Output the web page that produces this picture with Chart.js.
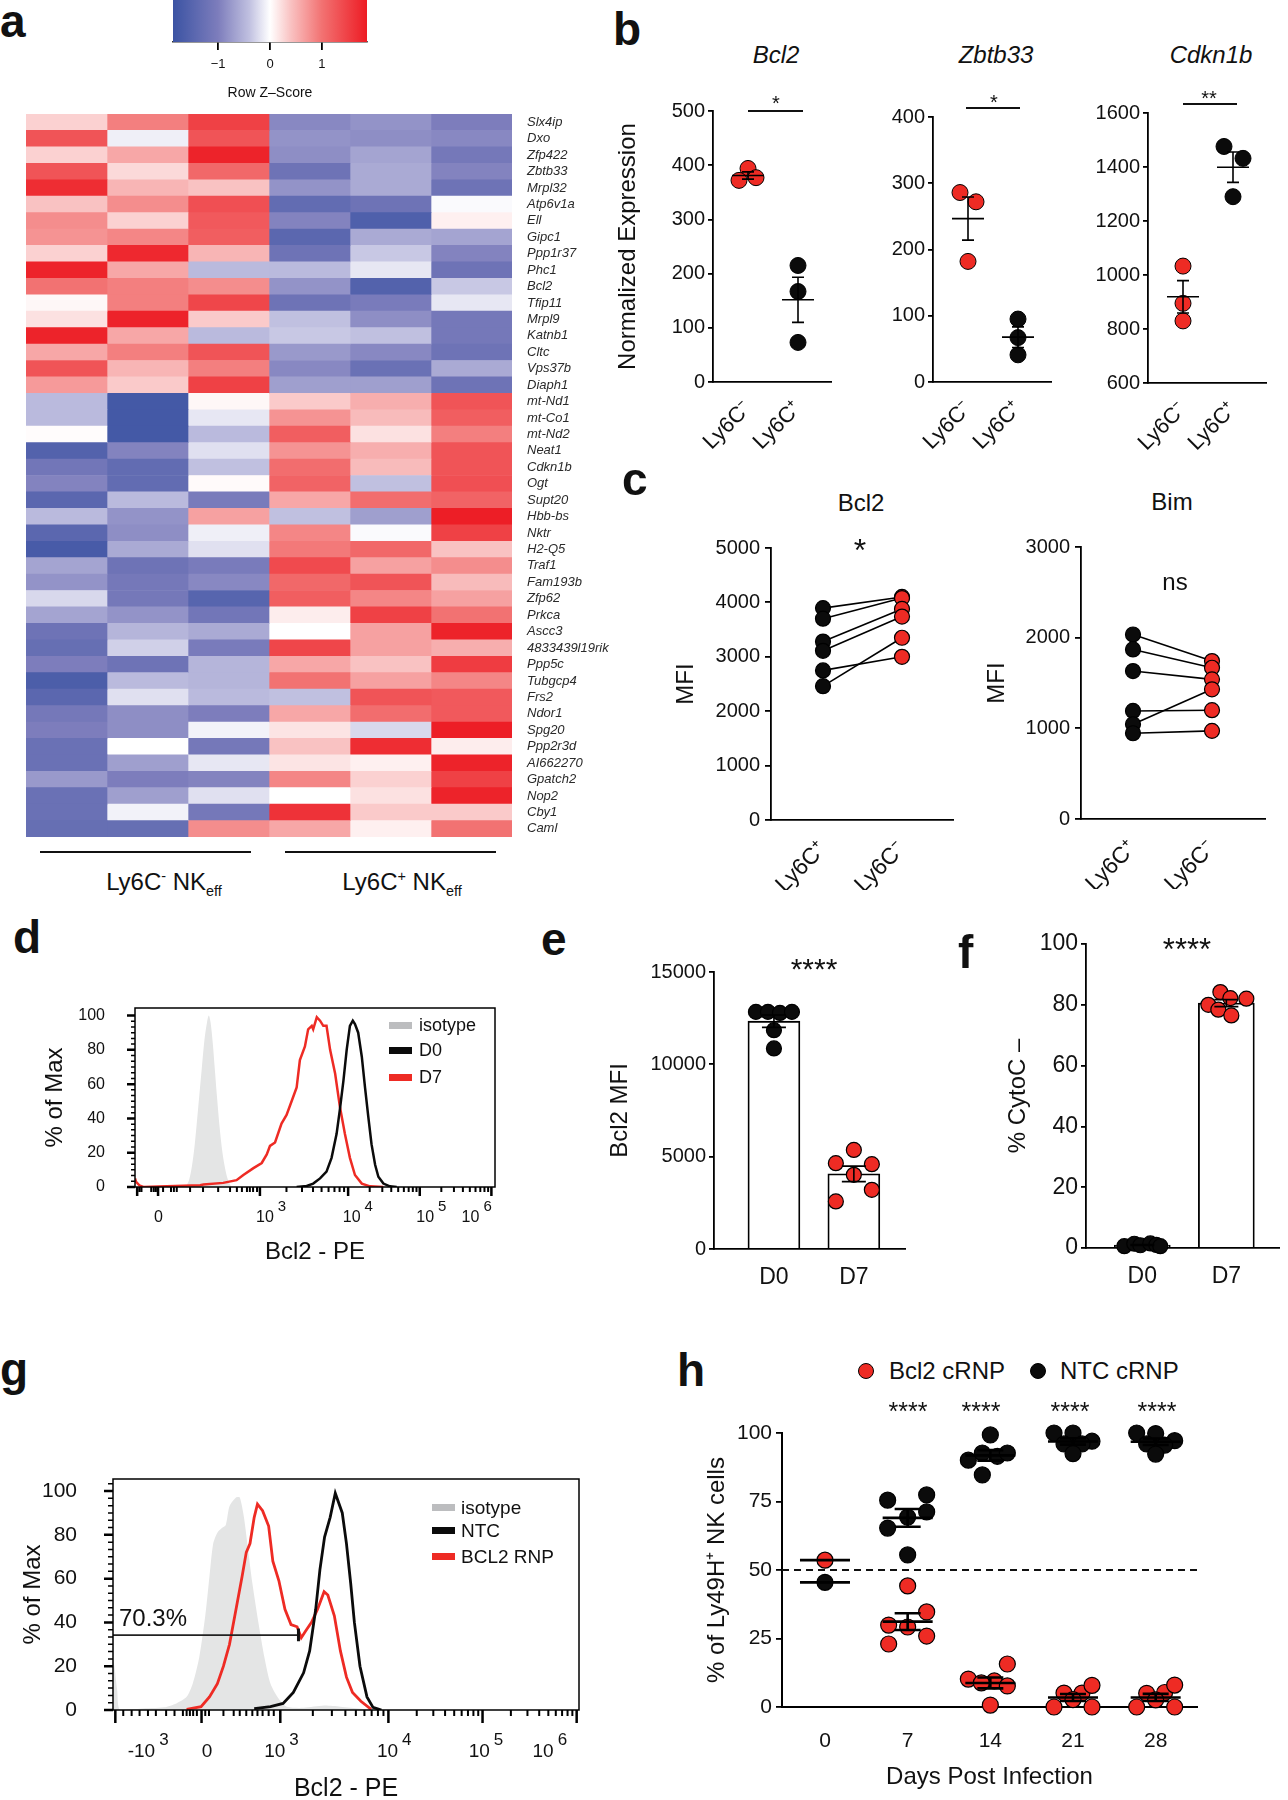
<!DOCTYPE html>
<html>
<head>
<meta charset="utf-8">
<script src="https://cdn.jsdelivr.net/npm/chart.js@4.4.1/dist/chart.umd.min.js"></script>
<style>
  html, body { margin: 0; padding: 0; background: #fff; }
  body { width: 1288px; height: 1800px; position: relative; overflow: hidden;
         font-family: "Liberation Sans", Arial, Helvetica, sans-serif; color: #111; }
  canvas { position: absolute; }
  .t { position: absolute; white-space: nowrap; line-height: 1; }
  .t sup, .t sub { line-height: 0; font-size: 60%; }
  .ln { position: absolute; background: #111; }
</style>
</head>
<body>
<script>
// ---------- a: heatmap ----------
const genes = ['Slx4ip', 'Dxo', 'Zfp422', 'Zbtb33', 'Mrpl32', 'Atp6v1a', 'Ell', 'Gipc1', 'Ppp1r37', 'Phc1',
  'Bcl2', 'Tfip11', 'Mrpl9', 'Katnb1', 'Cltc', 'Vps37b', 'Diaph1', 'mt-Nd1', 'mt-Co1', 'mt-Nd2',
  'Neat1', 'Cdkn1b', 'Ogt', 'Supt20', 'Hbb-bs', 'Nktr', 'H2-Q5', 'Traf1', 'Fam193b', 'Zfp62',
  'Prkca', 'Ascc3', '4833439l19rik', 'Ppp5c', 'Tubgcp4', 'Frs2', 'Ndor1', 'Spg20', 'Ppp2r3d', 'AI662270',
  'Gpatch2', 'Nop2', 'Cby1', 'Caml'];
// row z-scores, 3 Ly6C- samples then 3 Ly6C+ samples
const zRows = [
  [0.3, 0.9, 1.5, -0.9, -0.8, -1.0], [1.3, -0.1, 1.3, -0.8, -0.85, -0.9], [0.3, 0.6, 1.8, -0.85, -0.65, -1.1],
  [1.3, 0.25, 1.1, -1.2, -0.6, -0.95], [1.7, 0.5, 0.4, -0.8, -0.6, -1.2], [0.4, 0.8, 1.35, -1.35, -1.2, -0.03],
  [0.8, 0.3, 1.25, -0.95, -1.6, 0.1], [0.75, 0.85, 1.2, -1.45, -0.6, -0.65], [0.3, 1.75, 0.5, -1.2, -0.35, -0.95],
  [1.8, 0.6, -0.45, -0.45, -0.15, -1.2], [1.0, 0.9, 0.8, -0.8, -1.55, -0.35], [0.05, 0.9, 1.45, -1.2, -1.05, -0.15],
  [0.2, 1.8, 0.35, -0.4, -0.85, -1.1], [1.8, 0.6, -0.45, -0.35, -0.4, -1.1], [0.6, 0.9, 1.3, -0.75, -0.9, -1.2],
  [1.3, 0.5, 0.9, -0.9, -1.25, -0.6], [0.7, 0.35, 1.5, -0.7, -0.7, -1.2], [-0.45, -1.75, 0.05, 0.35, 0.55, 1.3],
  [-0.45, -1.75, -0.15, 0.75, 0.45, 1.2], [0.02, -1.75, -0.45, 1.2, 0.2, 0.9], [-1.55, -0.95, -0.2, 0.75, 0.55, 1.3],
  [-1.15, -1.35, -0.4, 1.05, 0.45, 1.3], [-0.95, -1.35, 0.03, 1.15, -0.4, 1.35], [-1.45, -0.45, -1.05, 0.6, 1.05, 1.15],
  [-0.45, -0.8, 0.65, -0.4, -0.7, 1.85], [-1.45, -0.85, -0.1, 0.85, -0.03, 1.5], [-1.7, -0.6, -0.2, 0.95, 1.1, 0.4],
  [-0.65, -1.2, -1.05, 1.4, 0.65, 0.8], [-0.8, -1.1, -0.9, 1.1, 1.3, 0.45], [-0.25, -1.1, -1.5, 1.2, 0.85, 0.65],
  [-0.65, -0.8, -1.15, 0.12, 1.5, 1.0], [-1.2, -0.5, -0.6, 0.0, 0.65, 1.8], [-1.3, -0.3, -1.05, 1.45, 0.65, 0.55],
  [-1.0, -1.2, -0.5, 0.6, 0.4, 1.55], [-1.65, -0.45, -0.5, 1.0, 0.65, 0.85], [-1.45, -0.2, -0.45, -0.4, 1.3, 1.25],
  [-1.1, -0.85, -1.0, 0.6, 1.05, 1.25], [-1.0, -0.85, -0.08, 0.18, -0.25, 1.85], [-1.25, 0.0, -1.1, 0.4, 1.7, 0.12],
  [-1.25, -0.7, -0.15, 0.18, 0.1, 1.8], [-0.75, -1.0, -0.95, 0.85, 0.3, 1.5], [-1.25, -0.7, -0.2, 0.0, 0.2, 1.8],
  [-1.25, -0.08, -1.1, 1.65, 0.35, 0.35], [-1.3, -1.3, 0.8, 0.6, 0.1, 1.0]
];
const zRange = [-1.87, 1.87];
const zTicks = [-1, 0, 1];

// ---------- b: normalized expression ----------
const bGenes = ['Bcl2', 'Zbtb33', 'Cdkn1b'];
const bGroups = ['Ly6C\u207B', 'Ly6C\u207A'];
const bNeg = [[394, 372, 377], [286, 272, 182], [1033, 895, 830]];
const bPos = [[215, 167, 73], [95, 67, 41], [1476, 1432, 1290]];
const bYRange = [[0, 500, 100], [0, 400, 100], [600, 1600, 200]];
const bSig = ['*', '*', '**'];

// ---------- c: paired MFI ----------
const cGroups = ['Ly6C\u207A', 'Ly6C\u207B'];
const cBcl2Pos = [3895, 3700, 3280, 3110, 2750, 2460];
const cBcl2Neg = [4100, 4080, 3880, 3740, 3000, 3350];
const cBimPos = [2035, 1870, 1632, 1192, 1045, 946];
const cBimNeg = [1742, 1668, 1540, 1200, 1430, 972];

// ---------- d: histogram (channel 0-1000, % of max) ----------
const dIsotype = [[141, 0], [150, 4], [158, 12], [166, 25], [175, 45], [185, 68], [193, 86], [200, 96], [205, 100],
  [210, 96], [216, 84], [222, 68], [228, 52], [235, 35], [243, 20], [252, 9], [260, 3], [268, 0]];
const dD0 = [[449, 0], [477, 0.6], [495, 2], [514, 5], [532, 9], [546, 17], [560, 31], [569, 45], [579, 62], [588, 80],
  [597, 94], [605, 97], [611, 95], [620, 90], [630, 76], [639, 58], [648, 41], [657, 25], [667, 13], [676, 6],
  [690, 2], [708, 0.4], [727, 0]];
const dD7 = [[0, 5], [3, 3], [12, 1], [23, 0], [88, 0.5], [181, 1], [190, 1.4], [245, 2.4], [282, 4], [301, 7],
  [329, 11], [352, 14], [366, 19], [375, 24], [389, 26], [407, 37], [421, 42], [435, 50], [449, 58], [458, 74],
  [472, 82], [481, 92], [491, 94], [495, 92], [505, 99], [514, 97], [523, 94], [532, 94], [542, 80], [556, 66],
  [569, 47], [583, 31], [597, 17], [611, 7], [630, 2], [653, 0.4], [690, 0]];
const dTickPos = [65, 361, 602, 806, 932];
const dTickBase = ['0', '10', '10', '10', '10'];
const dTickExp = ['', '3', '4', '5', '6'];

// ---------- e / f ----------
const efGroups = ['D0', 'D7'];
const eD0 = [12840, 12840, 12785, 12840, 11850, 10860];
const eD7 = [5366, 4646, 4592, 4016, 3205, 2575];
const fD0 = [0.6, 1.4, 0.9, 1.5, 1.0, 0.6];
const fD7 = [80.0, 84.2, 82.0, 78.4, 76.5, 82.2];

// ---------- g: histogram ----------
const gIsotype = [[0, 22], [3, 20], [9, 9], [15, 0], [57, 0.6], [110, 1.2], [136, 3], [158, 6], [171, 12], [185, 24],
  [198, 43], [207, 61], [215, 76], [224, 81], [233, 83], [242, 84.5], [250, 93], [264, 97], [272, 97], [281, 88],
  [290, 73], [299, 58], [312, 40], [325, 24], [338, 12], [356, 5], [373, 1.5], [409, 1], [453, 2], [488, 1.5],
  [532, 0.6], [576, 0]];
const gNTC = [[303, 0.6], [338, 1.5], [365, 3], [387, 8], [409, 17], [422, 27], [435, 46], [444, 64], [454, 79],
  [466, 88], [477, 99], [492, 90], [501, 76], [510, 58], [518, 40], [530, 20], [545, 6], [558, 1.2], [576, 0]];
const gBCL2 = [[158, 0.3], [189, 1.5], [207, 6], [224, 12], [237, 20], [250, 30], [264, 46], [277, 61], [286, 72],
  [294, 76], [303, 88], [310, 94], [321, 91], [334, 84], [343, 68], [356, 59], [369, 46], [382, 39], [395, 38],
  [404, 33], [413, 36], [426, 40], [439, 46], [453, 54], [461, 52.5], [475, 43], [488, 27], [501, 15], [514, 8],
  [532, 4], [554, 0.3]];
const gGate = [0, 398, 34.2];   // from channel, to channel, level
const gGateText = '70.3%';
const gTickPos = [61, 202, 347, 589, 786, 923];
const gTickBase = ['-10', '0', '10', '10', '10', '10'];
const gTickExp = ['3', '', '3', '4', '5', '6'];

// ---------- h: time course ----------
const hDays = [0, 7, 14, 21, 28];
const hBcl2 = [[53.6], [44.2, 34.7, 29.9, 29.2, 25.9, 23.0], [15.7, 10.2, 9.5, 8.8, 7.7, 0.7],
  [0, 0, 5.1, 5.1, 7.9, 2.7], [0, 0, 5.0, 5.3, 8.0, 2.6]];
const hNTC = [[45.5], [75.5, 77.4, 71.2, 69.3, 65.3, 55.5], [99.3, 90.1, 92.7, 91.5, 92.7, 84.7],
  [100, 100, 97, 96, 96, 92.5], [100, 99.8, 97.2, 96, 95.6, 92.3]];
const hRef = 50;

// ---------- point spread (px) for the column scatters ----------
const bNegSpread = [[0, -9, 8], [-8, 8, 0], [0, 0, 0]];
const bPosSpread = [[0, 0, 0], [0, 0, 0], [-9, 10, 0]];
const eD0Spread = [-18, -6, 6, 18, 0, 0];
const eD7Spread = [0, -18, 18, 0, 18, -18];
const fD0Spread = [-18, -8, -2, 8, 14, 18];
const fD7Spread = [-18, -6, 20, -8, 5, 4];
const hBcl2Spread = [[0], [0, 19, -19, 0, 19, -19], [17, -22, 4, -9, 17, 0], [-19, 19, -9, 9, 19, 0], [-19, 19, -9, 9, 19, 0]];
const hNTCSpread = [[0], [-20, 19, 19, 0, -20, 0], [0, -22, -8, 7, 17, -8], [-19, 0, 19, -9, 9, 0], [-19, 0, 19, -9, 9, 0]];

// ================= helpers =================
const RED = '#ee2b24', BLK = '#0b0b0b', ISO = '#e4e5e5';
const FONT = '"Liberation Sans", Arial, Helvetica, sans-serif';
Chart.defaults.font.family = FONT;
Chart.defaults.color = '#111';

const mean = a => a.reduce((s, v) => s + v, 0) / a.length;
const pts = arr => arr.map(([x, y]) => ({x, y}));
const plain = v => String(v);

function place(x0, y0, x1, y1, m) {
  const c = document.createElement('canvas');
  const w = x1 - x0 + m.l + m.r, h = y1 - y0 + m.t + m.b;
  c.width = w; c.height = h;
  c.style.left = (x0 - m.l) + 'px';
  c.style.top = (y0 - m.t) + 'px';
  c.style.width = w + 'px';
  c.style.height = h + 'px';
  document.body.appendChild(c);
  return c;
}

function opts(m, scales) {
  return {
    responsive: false, animation: false, devicePixelRatio: 1, events: [],
    layout: {padding: {top: m.t, right: m.r, left: 0, bottom: 0}},
    plugins: {legend: {display: false}, tooltip: {enabled: false}},
    scales
  };
}

function txt(html, x, cy, size, o = {}) {
  const d = document.createElement('div');
  d.className = 't';
  d.innerHTML = html;
  d.style.fontSize = size + 'px';
  if (o.bold) d.style.fontWeight = 'bold';
  if (o.italic) d.style.fontStyle = 'italic';
  let top;
  if (o.base) top = cy - 0.846 * size;        // cy is the baseline
  else if (o.star) top = cy - 0.273 * size;   // cy is the centre of an asterisk
  else top = cy - 0.488 * size;               // cy is the centre of capitals
  d.style.top = top + 'px';
  d.style.left = x + 'px';
  if (o.align !== 'left') d.style.transform = 'translateX(-50%)';
  document.body.appendChild(d);
}

function hline(x0, x1, y, w) {
  const d = document.createElement('div');
  d.className = 'ln';
  Object.assign(d.style, {left: x0 + 'px', top: (y - w / 2) + 'px', width: (x1 - x0) + 'px', height: w + 'px'});
  document.body.appendChild(d);
}

function swatch(x0, x1, y, h, color, round) {
  const d = document.createElement('div');
  Object.assign(d.style, {position: 'absolute', left: x0 + 'px', top: (y - h / 2) + 'px',
    width: (x1 - x0) + 'px', height: h + 'px', background: color});
  if (round) { d.style.borderRadius = '50%'; d.style.border = '1px solid #000'; d.style.boxSizing = 'border-box'; }
  document.body.appendChild(d);
}

// shift points sideways by a few pixels so overlapping values stay visible
const spreadPlugin = {
  id: 'spread',
  afterDatasetsUpdate(chart) {
    chart.data.datasets.forEach((ds, i) => {
      if (!ds.spread) return;
      chart.getDatasetMeta(i).data.forEach((el, k) => { el.x += ds.spread[k] || 0; });
    });
  }
};

// mean line and SEM whiskers computed from the values
function summary(groups, o) {
  return {
    id: 'summary',
    afterDatasetsDraw(chart) {
      const {ctx, scales: {x, y}} = chart;
      ctx.save();
      ctx.strokeStyle = '#000';
      ctx.lineWidth = o.lw;
      ctx.beginPath();
      groups.forEach(g => {
        const n = g.values.length, m = mean(g.values);
        const px = x.getPixelForValue(g.x), pm = y.getPixelForValue(m);
        if (o.half) { ctx.moveTo(px - o.half, pm); ctx.lineTo(px + o.half, pm); }
        if (o.cap && n > 1) {
          const sd = Math.sqrt(g.values.reduce((s, v) => s + (v - m) ** 2, 0) / (n - 1));
          const se = sd / Math.sqrt(n);
          const p1 = y.getPixelForValue(m - se), p2 = y.getPixelForValue(m + se);
          ctx.moveTo(px, p1); ctx.lineTo(px, p2);
          ctx.moveTo(px - o.cap, p1); ctx.lineTo(px + o.cap, p1);
          ctx.moveTo(px - o.cap, p2); ctx.lineTo(px + o.cap, p2);
        }
      });
      ctx.stroke();
      ctx.restore();
    }
  };
}

// flow-cytometry style frame: major / minor tick marks and 10^n labels
function decade(a, b) { return [2, 3, 4, 5, 6, 7, 8, 9].map(k => a + Math.log10(k) * (b - a)); }
function flowFrame(o) {
  return {
    id: 'flowFrame',
    afterDraw(chart) {
      const {ctx, chartArea: a, scales: {x, y}} = chart;
      ctx.save();
      ctx.strokeStyle = '#000';
      const marks = (vals, len, lw, axis) => {
        ctx.lineWidth = lw;
        ctx.beginPath();
        vals.forEach(v => {
          if (axis === 'x') { const p = x.getPixelForValue(v); ctx.moveTo(p, a.bottom); ctx.lineTo(p, a.bottom + len); }
          else { const p = y.getPixelForValue(v); ctx.moveTo(a.left, p); ctx.lineTo(a.left - len, p); }
        });
        ctx.stroke();
      };
      marks(o.xMajor, o.xMajLen, 2.5, 'x');
      marks(o.xMinor, o.xMinLen, 2, 'x');
      marks(o.yMajor, o.yMajLen, 2.5, 'y');
      marks(o.yMinor, o.yMinLen, 1.5, 'y');
      ctx.lineWidth = 1.5;
      ctx.strokeRect(a.left, a.top, a.width, a.height);
      // decade labels: base centred on the value, exponent raised to its right
      ctx.fillStyle = '#111';
      ctx.textBaseline = 'middle';
      ctx.textAlign = 'center';
      o.pos.forEach((v, k) => {
        const p = x.getPixelForValue(v);
        const cy = a.bottom + o.labelDy;
        ctx.font = o.size + 'px ' + FONT;
        ctx.fillText(o.base[k], p, cy);
        if (o.exp[k]) {
          const w = ctx.measureText(o.base[k]).width;
          ctx.font = o.expSize + 'px ' + FONT;
          ctx.textAlign = 'left';
          ctx.fillText(o.exp[k], p + w / 2 + 4, cy - o.expRaise);
          ctx.textAlign = 'center';
        }
      });
      ctx.restore();
    }
  };
}

const axisLine = {color: '#000', width: 1.8};
const tickMarks = len => ({drawOnChartArea: false, drawTicks: true, tickLength: len, color: '#000', lineWidth: 1.8});
const fixedTicks = vals => s => { s.ticks = vals.map(v => ({value: v})); };

// ================= a: heatmap =================
function zColor(z) {
  const stops = [[-1.87, [59, 83, 163]], [-1.0, [125, 125, 188]], [-0.4, [192, 192, 224]], [0, [255, 255, 255]],
                 [0.4, [249, 194, 194]], [1.0, [242, 114, 114]], [1.87, [237, 28, 36]]];
  z = Math.max(-1.87, Math.min(1.87, z));
  for (let i = 1; i < stops.length; i++) {
    if (z <= stops[i][0]) {
      const [z0, c0] = stops[i - 1], [z1, c1] = stops[i];
      const t = (z - z0) / (z1 - z0);
      return 'rgb(' + c0.map((c, k) => Math.round(c + (c1[k] - c) * t)).join(',') + ')';
    }
  }
  return 'rgb(237,28,36)';
}

new Chart(place(26, 114, 512, 837, {l: 0, r: 110, t: 18, b: 18}), {
  type: 'bar',
  data: {
    labels: genes,
    datasets: [0, 1, 2, 3, 4, 5].map(j => ({
      data: genes.map(() => 1),
      backgroundColor: zRows.map(r => zColor(r[j])),
      borderWidth: 0, barPercentage: 1, categoryPercentage: 1
    }))
  },
  options: Object.assign(opts({t: 18, r: 0}, {
    x: {display: false, stacked: true, min: 0, max: 6},
    y: {position: 'right', stacked: true, grid: {display: false}, border: {display: false},
        ticks: {font: {size: 13, style: 'italic'}, color: '#2a2a2a', padding: 7, autoSkip: false},
        afterFit: s => { s.width = 110; }}
  }), {indexAxis: 'y', layout: {padding: {top: 18, bottom: 18, left: 0, right: 0}}})
});

// colour key
new Chart(place(173, 0, 367, 42, {l: 20, r: 20, t: 0, b: 60}), {
  type: 'bar',
  data: {
    labels: ['z'],
    datasets: [{
      data: [zRange],
      barPercentage: 1, categoryPercentage: 1, borderWidth: 0,
      backgroundColor: ctx => {
        const xs = ctx.chart.scales.x;
        if (!xs || !Number.isFinite(xs.left) || !Number.isFinite(xs.right) || xs.right <= xs.left) return '#fff';
        const g = ctx.chart.ctx.createLinearGradient(xs.left, 0, xs.right, 0);
        [-1.87, -1.4, -1.0, -0.7, -0.4, -0.2, 0, 0.2, 0.4, 0.7, 1.0, 1.4, 1.87].forEach(z =>
          g.addColorStop((z - zRange[0]) / (zRange[1] - zRange[0]), zColor(z)));
        return g;
      }
    }]
  },
  options: Object.assign(opts({t: 0, r: 20}, {
    y: {display: false},
    x: {min: zRange[0], max: zRange[1], afterBuildTicks: fixedTicks(zTicks),
        ticks: {callback: v => (v < 0 ? '\u2212' + Math.abs(v) : String(v)), font: {size: 13}, padding: 7},
        grid: tickMarks(8), border: {color: '#333', width: 1.5},
        title: {display: true, text: 'Row Z\u2013Score', font: {size: 14}, padding: 0},
        afterFit: s => { s.height = 60; }}
  }), {indexAxis: 'y', layout: {padding: {top: 0, right: 20, left: 20, bottom: 0}}})
});

hline(40, 251, 852, 2);
hline(285, 496, 852, 2);
txt('Ly6C<sup>-</sup> NK<sub>eff</sub>', 164, 882, 24);
txt('Ly6C<sup>+</sup> NK<sub>eff</sub>', 402, 882, 24);

// ================= b =================
const bAxisX = [713, 933, 1148];
const bTopY = [111, 117, 113];
const bBotY = [382, 382, 383];
bGenes.forEach((gene, i) => {
  const m = {l: i === 0 ? 99 : 60, r: 10, t: 20, b: 75};
  const [ymin, ymax, step] = bYRange[i];
  new Chart(place(bAxisX[i], bTopY[i], bAxisX[i] + 118, bBotY[i], m), {
    type: 'scatter',
    data: {datasets: [
      {data: bNeg[i].map(v => ({x: 0, y: v})), spread: bNegSpread[i], pointRadius: 8,
       pointBackgroundColor: RED, pointBorderColor: '#000', pointBorderWidth: 1, clip: false},
      {data: bPos[i].map(v => ({x: 1, y: v})), spread: bPosSpread[i], pointRadius: 8,
       pointBackgroundColor: BLK, pointBorderColor: '#000', pointBorderWidth: 1, clip: false}
    ]},
    options: opts(m, {
      x: {type: 'linear', min: -0.7, max: 1.66, offset: false, afterBuildTicks: fixedTicks([0, 1]),
          ticks: {callback: (v, k) => bGroups[k], minRotation: 45, maxRotation: 45, font: {size: 22}, padding: 6, autoSkip: false},
          grid: {display: false}, border: axisLine, afterFit: s => { s.height = m.b; }},
      y: {min: ymin, max: ymax, ticks: {stepSize: step, font: {size: 20}, padding: 3, callback: plain},
          grid: tickMarks(5), border: axisLine,
          title: {display: i === 0, text: 'Normalized Expression', font: {size: 24}, padding: 0},
          afterFit: s => { s.width = m.l; }}
    }),
    plugins: [spreadPlugin, summary([{x: 0, values: bNeg[i]}, {x: 1, values: bPos[i]}], {lw: 1.6, half: 16, cap: 6})]
  });
  txt(gene, bAxisX[i] + 63, 55, 24, {italic: true});
});
hline(748, 803, 111, 2); txt(bSig[0], 776, 98, 20, {star: true});
hline(966, 1020, 108, 2); txt(bSig[1], 994, 97, 20, {star: true});
hline(1183, 1237, 104, 2); txt(bSig[2], 1209, 93, 20, {star: true});

// ================= c =================
function pairedChart(x0, x1, y0, y1, ml, ymax, step, before, after) {
  const m = {l: ml, r: 10, t: 20, b: 70};
  const span = x1 - x0, c0 = 52 / 79, c1 = (span - 52) / 79;
  const lines = before.map((v, k) => ({
    type: 'line', data: [{x: 0, y: v}, {x: 1, y: after[k]}], borderColor: '#000', borderWidth: 1.6,
    pointRadius: 0, order: 2, clip: false
  }));
  new Chart(place(x0, y0, x1, y1, m), {
    type: 'scatter',
    data: {datasets: [
      {data: after.map(v => ({x: 1, y: v})), pointRadius: 7.5, pointBackgroundColor: RED,
       pointBorderColor: '#000', pointBorderWidth: 1.2, order: 0, clip: false},
      {data: before.map(v => ({x: 0, y: v})), pointRadius: 7.5, pointBackgroundColor: BLK,
       pointBorderColor: '#000', pointBorderWidth: 1.2, order: 1, clip: false},
      ...lines
    ]},
    options: opts(m, {
      x: {type: 'linear', min: -c0, max: c1, offset: false, afterBuildTicks: fixedTicks([0, 1]),
          ticks: {callback: (v, k) => cGroups[k], minRotation: 45, maxRotation: 45, font: {size: 23}, padding: 8, autoSkip: false},
          grid: {display: false}, border: axisLine, afterFit: s => { s.height = m.b; }},
      y: {min: 0, max: ymax, ticks: {stepSize: step, font: {size: 20}, padding: 5, callback: plain},
          grid: tickMarks(6), border: axisLine,
          title: {display: true, text: 'MFI', font: {size: 24}, padding: 0},
          afterFit: s => { s.width = m.l; }}
    })
  });
}
pairedChart(771, 953, 548, 820, 99, 5000, 1000, cBcl2Pos, cBcl2Neg);
pairedChart(1081, 1265, 547, 819, 98, 3000, 1000, cBimPos, cBimNeg);
txt('Bcl2', 861, 503, 24);
txt('Bim', 1172, 502, 24);
txt('*', 860, 543, 32, {star: true});
txt('ns', 1175, 582, 24);

// ================= d =================
{
  const m = {l: 94, r: 25, t: 36, b: 80};
  new Chart(place(135, 1008, 495, 1187, m), {
    type: 'line',
    data: {datasets: [
      {data: pts(dD0), borderColor: BLK, borderWidth: 2.5, pointRadius: 0, fill: false, tension: 0},
      {data: pts(dD7), borderColor: RED, borderWidth: 2.5, pointRadius: 0, fill: false, tension: 0},
      {data: pts(dIsotype), borderWidth: 0, backgroundColor: ISO, fill: 'origin', pointRadius: 0, tension: 0.3}
    ]},
    options: opts(m, {
      x: {type: 'linear', min: 0, max: 1000, afterBuildTicks: fixedTicks(dTickPos),
          ticks: {display: false}, grid: {display: false}, border: {display: false},
          title: {display: true, text: 'Bcl2 - PE', font: {size: 24}, padding: 0},
          afterFit: s => { s.height = m.b; }},
      y: {min: 0, max: 104.4, afterBuildTicks: fixedTicks([0, 20, 40, 60, 80, 100]),
          ticks: {font: {size: 16}, padding: 22}, grid: {display: false}, border: {display: false},
          title: {display: true, text: '% of Max', font: {size: 24}, padding: 0},
          afterFit: s => { s.width = m.l; }}
    }),
    plugins: [flowFrame({
      xMajor: [6, 64, 347, 592, 791, 990],
      xMinor: [12, 18, 45, 52, 58, 78, 100, 108, 116, 153, 189, 231, 264, 283, 297, 311, 319, 328, 339,
               ...decade(347, 592), ...decade(592, 791), ...decade(791, 990)],
      yMajor: [0, 20, 40, 60, 80, 100],
      yMinor: Array.from({length: 31}, (_, k) => k * 10 / 3).filter(v => v % 20 > 0.01 && v % 20 < 19.99),
      xMajLen: 9, xMinLen: 5, yMajLen: 8, yMinLen: 4,
      pos: dTickPos, base: dTickBase, exp: dTickExp, size: 16, expSize: 15, expRaise: 11, labelDy: 31
    })]
  });
  swatch(389, 412, 1025, 7, '#bcbdbf');
  swatch(389, 412, 1050, 7, BLK);
  swatch(389, 412, 1077, 7, RED);
  txt('isotype', 419, 1025, 18, {align: 'left'});
  txt('D0', 419, 1050, 18, {align: 'left'});
  txt('D7', 419, 1077, 18, {align: 'left'});
}

// ================= e / f =================
function barDots(x0, x1, y0, y1, m, ymax, step, cats, d0, d7, s0, s7, tickSize, title, xmin, xmax) {
  new Chart(place(x0, y0, x1, y1, m), {
    type: 'scatter',
    data: {datasets: [
      {data: d0.map(v => ({x: 0, y: v})), spread: s0, pointRadius: 7.5, pointBackgroundColor: BLK,
       pointBorderColor: '#000', pointBorderWidth: 1.2, order: 0, clip: false},
      {data: d7.map(v => ({x: 1, y: v})), spread: s7, pointRadius: 7.5, pointBackgroundColor: RED,
       pointBorderColor: '#000', pointBorderWidth: 1.2, order: 0, clip: false},
      {type: 'bar', data: [{x: 0, y: mean(d0)}, {x: 1, y: mean(d7)}], backgroundColor: '#fff',
       borderColor: '#000', borderWidth: 1.8, barThickness: m.bar, order: 1}
    ]},
    options: opts(m, {
      x: {type: 'linear', min: xmin, max: xmax, offset: false, grid: {display: false, offset: false},
          afterBuildTicks: fixedTicks([0, 1]),
          ticks: {callback: (v, k) => cats[k], font: {size: 23}, padding: 7, maxRotation: 0, autoSkip: false},
          border: axisLine, afterFit: s => { s.height = m.b; }},
      y: {min: 0, max: ymax, ticks: {stepSize: step, font: {size: tickSize}, padding: 3, callback: plain},
          grid: tickMarks(5), border: axisLine,
          title: {display: true, text: title, font: {size: 24}, padding: 0},
          afterFit: s => { s.width = m.l; }}
    }),
    plugins: [spreadPlugin, summary([{x: 0, values: d0}, {x: 1, values: d7}], {lw: 1.6, half: 0, cap: 12})]
  });
}
barDots(714, 905, 972, 1249, {l: 108, r: 10, t: 20, b: 45, bar: 52}, 15000, 5000, efGroups,
        eD0, eD7, eD0Spread, eD7Spread, 20, 'Bcl2 MFI', -0.75, 1.64);
barDots(1086, 1288, 944, 1248, {l: 82, r: 0, t: 20, b: 45, bar: 56}, 100, 20, efGroups,
        fD0, fD7, fD0Spread, fD7Spread, 23, '% CytoC \u2013', -0.67, 1.63);
txt('****', 814, 962, 30, {star: true});
txt('****', 1187, 942, 31, {star: true});

// ================= g =================
{
  const m = {l: 94, r: 25, t: 45, b: 94};
  new Chart(place(113, 1479, 579, 1710, m), {
    type: 'line',
    data: {datasets: [
      {data: [{x: gGate[1], y: gGate[2] - 2.8}, {x: gGate[1], y: gGate[2] + 3}], borderColor: '#111', borderWidth: 3, pointRadius: 0},
      {data: [{x: gGate[0], y: gGate[2]}, {x: gGate[1], y: gGate[2]}], borderColor: '#222', borderWidth: 1.8, pointRadius: 0},
      {data: pts(gNTC), borderColor: BLK, borderWidth: 2.8, pointRadius: 0, fill: false},
      {data: pts(gBCL2), borderColor: RED, borderWidth: 2.8, pointRadius: 0, fill: false},
      {data: pts(gIsotype), borderWidth: 0, backgroundColor: ISO, fill: 'origin', pointRadius: 0, tension: 0.25}
    ]},
    options: opts(m, {
      x: {type: 'linear', min: 0, max: 1000, afterBuildTicks: fixedTicks(gTickPos),
          ticks: {display: false}, grid: {display: false}, border: {display: false},
          title: {display: true, text: 'Bcl2 - PE', font: {size: 25}, padding: 0},
          afterFit: s => { s.height = m.b; }},
      y: {min: 0, max: 105.5, afterBuildTicks: fixedTicks([0, 20, 40, 60, 80, 100]),
          ticks: {font: {size: 21}, padding: 28}, grid: {display: false}, border: {display: false},
          title: {display: true, text: '% of Max', font: {size: 24}, padding: 0},
          afterFit: s => { s.width = m.l; }}
    }),
    plugins: [flowFrame({
      xMajor: [5, 190, 359, 591, 793, 995],
      xMinor: [22, 40, 57, 75, 92, 114, 132, 150, 158, 165, 172, 180, 198, 206, 237, 259, 272, 286, 299, 310, 321, 334, 345,
               ...decade(359, 591), ...decade(591, 793), ...decade(793, 995)],
      yMajor: [0, 20, 40, 60, 80, 100],
      yMinor: Array.from({length: 32}, (_, k) => k * 10 / 3).filter(v => v % 20 > 0.01 && v % 20 < 19.99),
      xMajLen: 13, xMinLen: 6, yMajLen: 9, yMinLen: 5,
      pos: gTickPos, base: gTickBase, exp: gTickExp, size: 19, expSize: 17, expRaise: 12, labelDy: 42
    })]
  });
  swatch(432, 455, 1507, 7, '#bcbdbf');
  swatch(432, 455, 1530, 7, BLK);
  swatch(432, 455, 1556, 7, RED);
  txt('isotype', 461, 1507, 19, {align: 'left'});
  txt('NTC', 461, 1530, 19, {align: 'left'});
  txt('BCL2 RNP', 461, 1556, 19, {align: 'left'});
  txt(gGateText, 119, 1618, 24, {align: 'left'});
}

// ================= h =================
{
  const m = {l: 79, r: 15, t: 22, b: 85};
  const flat = s => s.flatMap((vals, i) => vals.map(v => ({x: hDays[i], y: v})));
  const groups = [];
  hDays.forEach((d, i) => { groups.push({x: d, values: hBcl2[i]}); groups.push({x: d, values: hNTC[i]}); });
  const refLine = {
    id: 'refLine',
    beforeDatasetsDraw(chart) {
      const {ctx, chartArea: a, scales: {y}} = chart;
      const p = y.getPixelForValue(hRef);
      ctx.save();
      ctx.strokeStyle = '#111'; ctx.lineWidth = 2; ctx.setLineDash([7, 5]);
      ctx.beginPath(); ctx.moveTo(a.left, p); ctx.lineTo(a.right, p); ctx.stroke();
      ctx.restore();
    }
  };
  new Chart(place(782, 1433, 1197, 1707, m), {
    type: 'scatter',
    data: {datasets: [
      {data: flat(hBcl2), spread: hBcl2Spread.flat(), pointRadius: 8, pointBackgroundColor: RED,
       pointBorderColor: '#000', pointBorderWidth: 1.2, clip: false},
      {data: flat(hNTC), spread: hNTCSpread.flat(), pointRadius: 8, pointBackgroundColor: BLK,
       pointBorderColor: '#000', pointBorderWidth: 1.2, clip: false}
    ]},
    options: opts(m, {
      x: {type: 'linear', min: -3.64, max: 31.5, afterBuildTicks: fixedTicks(hDays),
          ticks: {font: {size: 21}, padding: 14, maxRotation: 0, autoSkip: false},
          grid: {display: false}, border: {color: '#000', width: 2},
          title: {display: true, text: 'Days Post Infection', font: {size: 24}, padding: 0},
          afterFit: s => { s.height = m.b; }},
      y: {min: 0, max: 100, ticks: {stepSize: 25, font: {size: 21}, padding: 4},
          grid: tickMarks(6), border: {color: '#000', width: 2},
          title: {display: true, text: '% of Ly49H\u207A NK cells', font: {size: 24}, padding: 0},
          afterFit: s => { s.width = m.l; }}
    }),
    plugins: [spreadPlugin, refLine, summary(groups, {lw: 2.6, half: 25, cap: 13})]
  });
  swatch(858, 874, 1371, 16, RED, true);
  txt('Bcl2 cRNP', 889, 1371, 24, {align: 'left'});
  swatch(1030, 1046, 1371, 16, BLK, true);
  txt('NTC cRNP', 1060, 1371, 24, {align: 'left'});
  [908, 981, 1070, 1157].forEach(x => txt('****', x, 1406, 25, {star: true}));
}

// panel letters
[['a', 0, 37], ['b', 613, 45], ['c', 622, 495], ['d', 13, 953], ['e', 541, 955],
 ['f', 958, 968], ['g', 0, 1385], ['h', 677, 1386]].forEach(([s, x, y]) =>
  txt(s, x, y, 46, {bold: true, base: true, align: 'left'}));
</script>
</body>
</html>
